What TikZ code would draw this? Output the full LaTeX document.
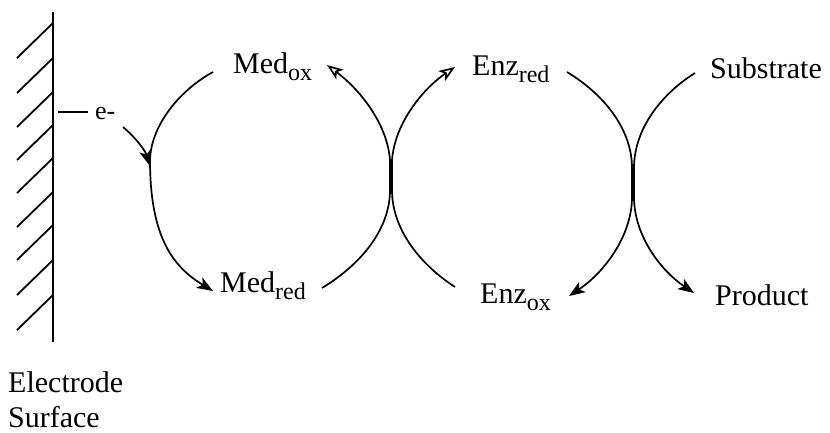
\documentclass[tikz,border=0pt]{standalone}
\usepackage{fontspec}
\setmainfont{Liberation Serif}
\usetikzlibrary{arrows.meta}
\newcommand{\lbsub}[1]{\raisebox{-7pt}{\fontsize{24}{24}\selectfont #1}}
\tikzset{
  lbl/.style={anchor=base west, inner sep=0pt, font=\fontsize{30}{32}\selectfont},
  cyc/.style={line width=1.7pt},
  fa/.style={cyc, -{Stealth[length=16pt, width=12pt, inset=4pt]}},
  oa/.style={cyc, -{Stealth[length=16pt, width=12pt, inset=4pt, open]}},
  hatch/.style={line width=1.8pt}
}
\begin{document}
\begin{tikzpicture}[x=1pt, y=-1pt]
\useasboundingbox (0,0) rectangle (830,432);
% electrode
\coordinate (eltop) at (53,12);
\coordinate (elbot) at (53,342);
\draw[line width=2.4pt] (eltop) -- (elbot);
\foreach \yy in {23,58,92,125,158,192,225,260,295}
  \draw[hatch] (53,\yy) -- (17,\yy+35);
% labels
\node[lbl] (medox) at (233,73) {Med\lbsub{ox}};
\node[lbl] (medred) at (220,292) {Med\lbsub{red}};
\node[lbl] (enzred) at (472,75) {Enz\lbsub{red}};
\node[lbl] (enzox) at (480,303) {Enz\lbsub{ox}};
\node[lbl] (subs) at (710,78) {Substrate};
\node[lbl] (prod) at (715,305) {Product};
\node[lbl] (el1) at (8,392) {Electrode};
\node[lbl] (el2) at (8,427) {Surface};
\node[lbl, font=\fontsize{26}{28}\selectfont] (em) at (95,119) {e-};
% e- tick
\coordinate (et1) at (58,112);
\coordinate (et2) at (88,112);
\draw[line width=1.5pt] (et1) -- (et2);
% coordinates
\coordinate (a1) at (213,72);
\coordinate (a2) at (150,166);
\coordinate (ea) at (123,127);
\coordinate (b1) at (150,160);
\coordinate (b2) at (213,291);
\coordinate (c1) at (322,288);
\coordinate (c2) at (327,65);
\coordinate (d1) at (455,287);
\coordinate (d2) at (455,67);
\coordinate (f1) at (567,72);
\coordinate (f2) at (569,296);
\coordinate (g1) at (695,73);
\coordinate (g2) at (694,293);
% Med cycle
\draw[cyc] (a1) .. controls (180,90) and (151,125) .. (150,160);
\draw[fa] (ea) .. controls (135,137) and (145,150) .. (a2);
\draw[fa] (b1) .. controls (150,240) and (175,268) .. (b2);
\draw[oa] (c1) .. controls (360,265) and (390,230) .. (390,190) -- (390,160) .. controls (387,122) and (358,88) .. (c2);
% Enz cycle
\draw[oa] (d1) .. controls (421,265) and (392,230) .. (392,190) -- (392,160) .. controls (395,122) and (424,88) .. (d2);
\draw[fa] (f1) .. controls (605,95) and (632,130) .. (632,168) -- (632,197) .. controls (632,235) and (605,272) .. (f2);
% Substrate
\draw[fa] (g1) .. controls (660,95) and (634,130) .. (634,168) -- (634,197) .. controls (634,235) and (660,270) .. (g2);
\end{tikzpicture}
\end{document}
